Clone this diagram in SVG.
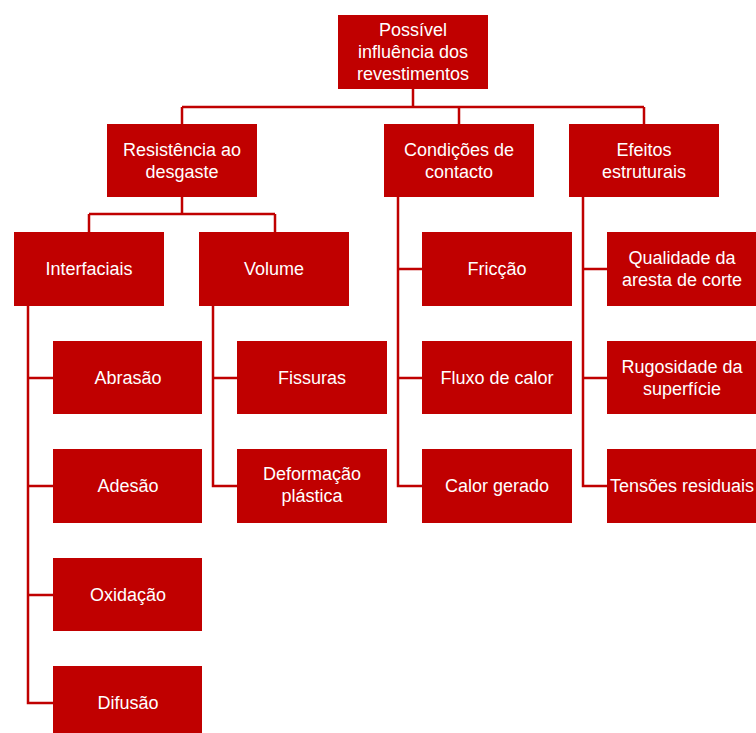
<svg xmlns="http://www.w3.org/2000/svg" width="756" height="733" viewBox="0 0 756 733">
<style>
.b{fill:#C00000;}
.t{fill:#FFFFFF;font-family:"Liberation Sans",Arial,sans-serif;font-size:18px;text-anchor:middle;}
.c{fill:none;stroke:#C00000;stroke-width:2.5;}
</style>
<rect width="756" height="733" fill="#FFFFFF"/>
<g id="connectors">
<path class="c" d="M413,89 V107 M182,107 H644 M182,107 V124 M459,107 V124 M644,107 V124"/>
<path class="c" d="M182,197 V214 M89,214 H275 M89,214 V232 M275,214 V232"/>
<path class="c" d="M28,306 V703 H53 M28,378 H53 M28,486 H53 M28,595 H53"/>
<path class="c" d="M213,306 V486 H237 M213,378 H237"/>
<path class="c" d="M398,197 V486 H422 M398,269 H422 M398,378 H422"/>
<path class="c" d="M583,197 V486 H607 M583,269 H607 M583,378 H607"/>
</g>
<g id="root"><rect class="b" x="338" y="15" width="150" height="74"/><text class="t" x="413" y="36">Possível</text><text class="t" x="413" y="58">influência dos</text><text class="t" x="413" y="80">revestimentos</text></g>
<g id="resistencia"><rect class="b" x="107" y="124" width="150" height="73"/><text class="t" x="182" y="156">Resistência ao</text><text class="t" x="182" y="178">desgaste</text></g>
<g id="condicoes"><rect class="b" x="384" y="124" width="150" height="73"/><text class="t" x="459" y="156">Condições de</text><text class="t" x="459" y="178">contacto</text></g>
<g id="efeitos"><rect class="b" x="569" y="124" width="150" height="73"/><text class="t" x="644" y="156">Efeitos</text><text class="t" x="644" y="178">estruturais</text></g>
<g id="interfaciais"><rect class="b" x="14" y="232" width="150" height="74"/><text class="t" x="89" y="275">Interfaciais</text></g>
<g id="volume"><rect class="b" x="199" y="232" width="150" height="74"/><text class="t" x="274" y="275">Volume</text></g>
<g id="friccao"><rect class="b" x="422" y="232" width="150" height="74"/><text class="t" x="497" y="275">Fricção</text></g>
<g id="qualidade"><rect class="b" x="607" y="232" width="150" height="74"/><text class="t" x="682" y="264">Qualidade da</text><text class="t" x="682" y="286">aresta de corte</text></g>
<g id="abrasao"><rect class="b" x="53" y="341" width="149" height="73"/><text class="t" x="128" y="384">Abrasão</text></g>
<g id="fissuras"><rect class="b" x="237" y="341" width="150" height="73"/><text class="t" x="312" y="384">Fissuras</text></g>
<g id="fluxo"><rect class="b" x="422" y="341" width="150" height="73"/><text class="t" x="497" y="384">Fluxo de calor</text></g>
<g id="rugosidade"><rect class="b" x="607" y="341" width="150" height="73"/><text class="t" x="682" y="373">Rugosidade da</text><text class="t" x="682" y="395">superfície</text></g>
<g id="adesao"><rect class="b" x="53" y="449" width="149" height="74"/><text class="t" x="128" y="492">Adesão</text></g>
<g id="deformacao"><rect class="b" x="237" y="449" width="150" height="74"/><text class="t" x="312" y="480">Deformação</text><text class="t" x="312" y="502">plástica</text></g>
<g id="calor"><rect class="b" x="422" y="449" width="150" height="74"/><text class="t" x="497" y="492">Calor gerado</text></g>
<g id="tensoes"><rect class="b" x="607" y="449" width="150" height="74"/><text class="t" x="682" y="492">Tensões residuais</text></g>
<g id="oxidacao"><rect class="b" x="53" y="558" width="149" height="73"/><text class="t" x="128" y="601">Oxidação</text></g>
<g id="difusao"><rect class="b" x="53" y="666" width="149" height="73"/><text class="t" x="128" y="709">Difusão</text></g>
</svg>
